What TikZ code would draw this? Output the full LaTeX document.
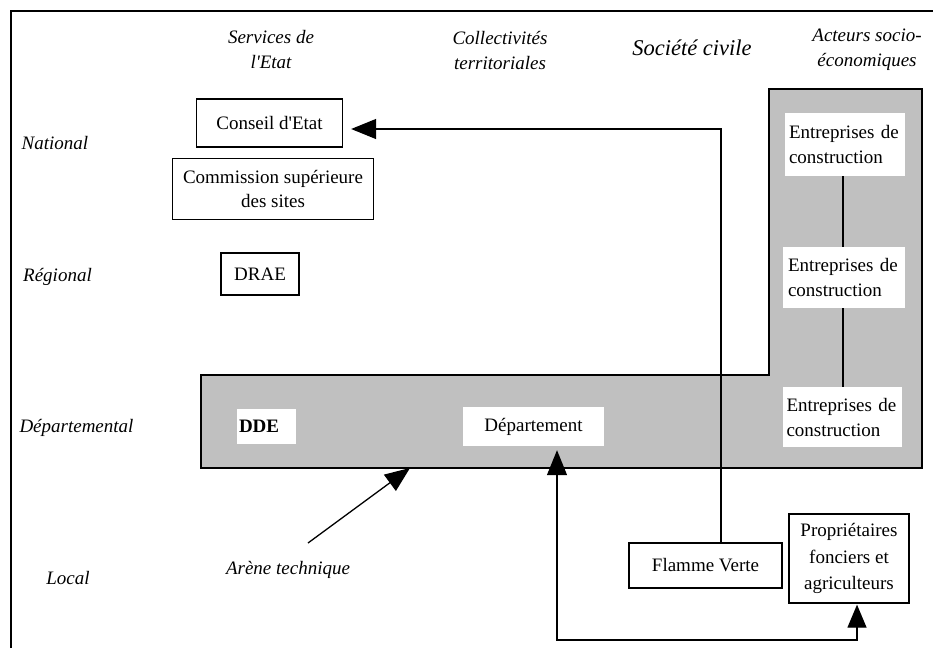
\documentclass[tikz,border=0pt]{standalone}
\usepackage{fontspec}
\setmainfont{Liberation Serif}
\usetikzlibrary{arrows.meta,calc}
\definecolor{shade}{RGB}{192,192,192}
\begin{document}
\begin{tikzpicture}[x=1pt,y=-1pt,
  every node/.style={font=\fontsize{19}{24}\selectfont},
  box/.style={draw, line width=1.3pt, fill=white, inner sep=0pt, align=center},
  wbox/.style={fill=white, inner sep=0pt},
  ent/.style={wbox, text width=112pt, align=left, font=\fontsize{19}{25}\selectfont},
  lab/.style={font=\fontsize{19}{25}\selectfont\itshape, align=center},
  conn/.style={line width=1.3pt},
  tip/.style={-{Triangle[length=25pt,width=20pt]}},
]
\useasboundingbox (0,0) rectangle (933,648);
\fill[white] (0,0) rectangle (933,648);
\draw[line width=1.5pt] (11,648) -- (11,11) -- (933,11);

% grey L-shaped area
\draw[line width=1.3pt, fill=shade] (201,375) -- (769,375) -- (769,89) -- (922,89) -- (922,468) -- (201,468) -- cycle;

% headers
\node[lab] (h1) at (271,50) {Services de\\l\textquotesingle Etat};
\node[lab] (h2) at (500,50) {Collectivités\\territoriales};
\node[font=\fontsize{22.5}{26}\selectfont\itshape] (h3) at (692,48) {Société civile};
\node[lab] (h4) at (867,50) {Acteurs socio-\\économiques};

% row labels
\node[lab] (r1) at (55,143) {National};
\node[lab] (r2) at (57.5,277) {Régional};
\node[lab] (r3) at (76.5,428) {Départemental};
\node[lab] (r4) at (68,578) {Local};

% boxes
\node[box, minimum width=146pt, minimum height=48pt] (ce) at (269.5,123) {Conseil d\textquotesingle Etat};
\node[box, minimum width=201pt, minimum height=61pt] (cs) at (273,189) {Commission supérieure\\des sites};
\node[box, minimum width=78pt, minimum height=42pt] (drae) at (260,274) {DRAE};
\node[wbox, minimum width=59pt, minimum height=35pt, text width=55pt, align=left] (dde) at (266.5,426.5) {\textbf{DDE}};
\node[wbox, minimum width=141pt, minimum height=39pt] (dep) at (533.5,426.5) {Département};
\node[ent, minimum width=120pt, minimum height=63pt] (e1) at (845,144.5) {Entreprises de\\construction};
\node[ent, minimum width=122pt, minimum height=61pt] (e2) at (844,277.5) {Entreprises de\\construction};
\node[ent, minimum width=119pt, minimum height=60pt] (e3) at (842.5,417) {Entreprises de\\construction};
\node[box, minimum width=153pt, minimum height=45pt] (fv) at (705.5,565.5) {Flamme Verte};
\node[box, minimum width=120pt, minimum height=89pt, font=\fontsize{19}{26.5}\selectfont] (pf) at (849,558.5) {Propriétaires\\fonciers et\\agriculteurs};
\node[lab] (arene) at (288,570) {Arène technique};

% connectors
\coordinate (c1) at (721,129);
\draw[conn, tip, shorten >=8pt] (fv.north -| c1) -- (c1) -- (ce.east |- c1);

\coordinate (ex) at (843,0);
\draw[conn] (e1.south -| ex) -- (e2.north -| ex);
\draw[conn] (e2.south -| ex) -- (e3.north -| ex);

\coordinate (b1) at (557,640);
\coordinate (b2) at (857,640);
\draw[conn, {Triangle[length=25pt,width=20pt]}-{Triangle[length=23pt,width=19pt]}, shorten <=4pt, shorten >=1pt]
  (dep.south -| b1) -- (b1) -- (b2) -- (pf.south -| b2);

\coordinate (at) at (308,543);
\coordinate (ag) at (410,468);
\draw[conn, tip] (at) -- (ag);
\end{tikzpicture}
\end{document}
